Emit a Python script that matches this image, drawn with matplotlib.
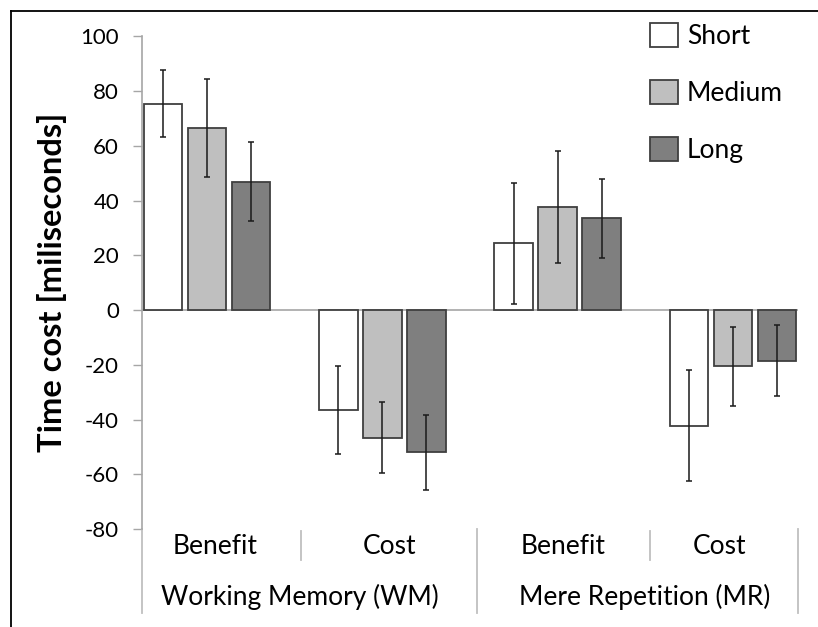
import matplotlib
matplotlib.use("Agg")
import matplotlib.pyplot as plt
import numpy as np
from matplotlib.lines import Line2D

plt.rcParams['font.family'] = ['Lato', 'DejaVu Sans']

# ---- data ----
groups = ["Working Memory (WM)", "Mere Repetition (MR)"]
subcats = ["Benefit", "Cost", "Benefit", "Cost"]
series = ["Short", "Medium", "Long"]
short_vals = [75.5, -36.5, 24.4, -42.2]
medium_vals = [66.5, -46.6, 37.6, -20.5]
long_vals = [47.0, -52.0, 33.5, -18.5]
short_err = [12.4, 16.1, 22.0, 20.4]
medium_err = [18.0, 13.0, 20.4, 14.4]
long_err = [14.3, 13.8, 14.4, 13.0]
yticks = [-80, -60, -40, -20, 0, 20, 40, 60, 80, 100]

colors = ["#FFFFFF", "#BFBFBF", "#7F7F7F"]
edge = "#3F3F3F"

fig = plt.figure(figsize=(8.18, 6.27), dpi=100)
ax = fig.add_axes([142/818, 1 - 529/627, 656/818, 492.5/627])

x = np.arange(len(subcats))
width = 0.22
offsets = [-0.251, 0.0, 0.251]
vals = [short_vals, medium_vals, long_vals]
errs = [short_err, medium_err, long_err]
for i in range(3):
    ax.bar(x + offsets[i], vals[i], width, color=colors[i], edgecolor=edge,
           linewidth=1.3, label=series[i], zorder=2)
    ax.errorbar(x + offsets[i], vals[i], yerr=errs[i], fmt='none',
                ecolor='#1a1a1a', elinewidth=1.1, capsize=2.2, capthick=1.1,
                zorder=3)

ax.set_xlim(-0.371, 3.372)
ax.set_ylim(-80, 100)
ax.set_yticks(yticks)
ax.set_yticklabels([str(t) for t in yticks], fontsize=16)
ax.tick_params(axis='y', direction='out', length=6.5, width=1, color='#A6A6A6',
               pad=10, labelcolor='#000000')
ax.set_xticks([])
for s in ['top', 'right', 'bottom']:
    ax.spines[s].set_visible(False)
ax.spines['left'].set_color('#A6A6A6')
ax.spines['left'].set_linewidth(1.2)
ax.axhline(0, color='#A6A6A6', linewidth=1.2, zorder=1)

ax.set_ylabel("Time cost [miliseconds]", fontsize=23.5, fontweight='bold', labelpad=10)

# category axis labels (multi-level)
sep_col = '#BFBFBF'
trans = ax.transAxes
for xs in [0.0, 0.511, 1.0]:
    ax.add_line(Line2D([xs, xs], [0, -0.170], transform=trans, color=sep_col,
                       linewidth=1.3, clip_on=False))
for xs in [0.242, 0.774]:
    ax.add_line(Line2D([xs, xs], [-0.005, -0.063], transform=trans, color=sep_col,
                       linewidth=1.3, clip_on=False))
sub_x = [0.112, 0.377, 0.642, 0.880]
for sx, lab in zip(sub_x, subcats):
    ax.text(sx, -0.0365, lab, transform=trans, ha='center', va='center', fontsize=19)
grp_x = [0.241, 0.767]
for gx, lab in zip(grp_x, groups):
    ax.text(gx, -0.138, lab, transform=trans, ha='center', va='center', fontsize=19)

leg = ax.legend(loc='upper left', bbox_to_anchor=(650/818, 1 - 23/627),
                bbox_transform=fig.transFigure, frameon=False, fontsize=19,
                handlelength=1.05, handleheight=1.0, labelspacing=1.18,
                handletextpad=0.35, borderaxespad=0, borderpad=0)

# outer frame (partially cropped)
fig.add_artist(Line2D([10.5/818, 10.5/818], [0, 1 - 10.5/627], transform=fig.transFigure,
                      color='black', linewidth=1.3))
fig.add_artist(Line2D([10.5/818, 1], [1 - 10.5/627, 1 - 10.5/627], transform=fig.transFigure,
                      color='black', linewidth=1.3))

fig.savefig("out.png", dpi=100)
